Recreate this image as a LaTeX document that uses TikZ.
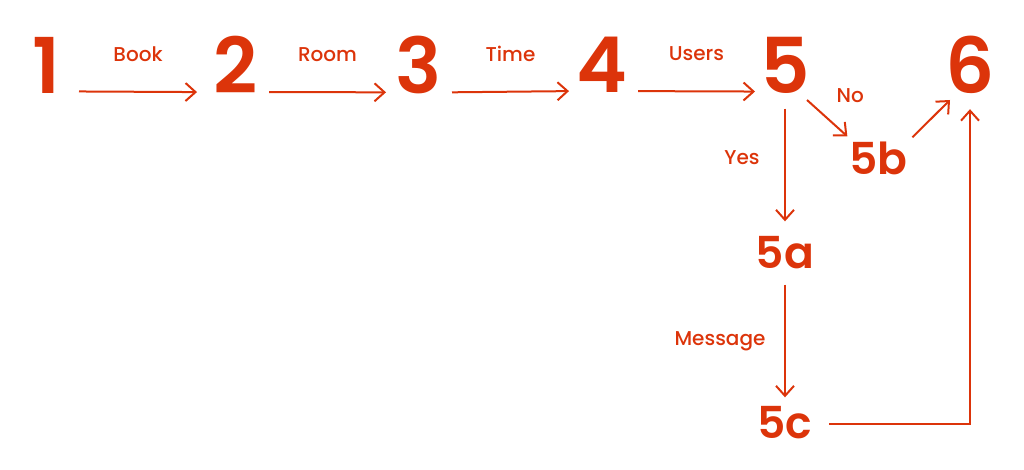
\documentclass[tikz,border=0pt]{standalone}
\usepackage{fontspec}
\setmainfont{Poppins}[BoldFont={Poppins SemiBold}]
\newfontfamily\labelfont{Poppins Medium}
\usetikzlibrary{arrows.meta}
\definecolor{flame}{RGB}{220,52,10}
\tikzstyle{bignum} = [text=flame, font=\fontsize{38.5}{40}\selectfont\bfseries, inner sep=0pt]
\tikzstyle{subnum} = [text=flame, font=\fontsize{22}{24}\selectfont\bfseries, inner sep=0pt]
\tikzstyle{lbl} = [text=flame, font=\fontsize{10}{12}\selectfont\labelfont, inner sep=0pt]
\tikzstyle{arr} = [draw=flame, line width=1pt, -{Straight Barb[length=5pt,width=9pt]}]

\begin{document}
\begin{tikzpicture}[node distance=91.5pt]
    \useasboundingbox (0,0) rectangle (512pt,-235pt);

    \node(one)[bignum] at (23pt,-32.5pt){1};
    \node(two)[bignum, right of=one, xshift=3.5pt]{2};
    \node(three)[bignum, right of=two]{3};
    \node(four)[bignum, right of=three]{4};
    \node(five)[bignum, right of=four]{5};
    \node(six)[bignum, right of=five, xshift=1pt]{6};

    \node(fivea)[subnum, below of=five, yshift=-2.5pt]{5a};
    \node(fiveb)[subnum, below right of=five, node distance=66pt]{5b};
    \node(fivec)[subnum, below of=fivea, yshift=6.5pt]{5c};

    \draw[arr] ([xshift=16.5pt,yshift=1pt]one.south) -- node[lbl, yshift=19pt]{Book} ([xshift=-19.5pt,yshift=1pt]two.south);
    \draw[arr] ([xshift=16.5pt,yshift=1pt]two.south) -- node[lbl, yshift=19pt]{Room} ([xshift=-16.5pt,yshift=1pt]three.south);
    \draw[arr] ([xshift=16.5pt,yshift=1pt]three.south) -- node[lbl, yshift=19pt]{Time} ([xshift=-16.5pt,yshift=1pt]four.south);
    \draw[arr] ([xshift=18pt,yshift=1pt]four.south) -- node[lbl, yshift=19pt]{Users} ([xshift=-15pt,yshift=1pt]five.south);

    \draw[arr] ([yshift=-7.5pt]five.south) -- node[lbl, xshift=-21.5pt, yshift=3.5pt]{Yes} ([yshift=7.5pt]fivea.north);
    \draw[arr] ([xshift=11pt,yshift=-17.5pt]five.center) -- node[lbl, xshift=11.5pt, yshift=11.25pt]{No} ([xshift=-15.5pt,yshift=11pt]fiveb.center);
    \draw[arr] ([xshift=17pt,yshift=10.5pt]fiveb.center) -- ([xshift=-10pt,yshift=-17.5pt]six.center);

    \draw[arr] ([yshift=-7.5pt]fivea.south) -- node[lbl, xshift=-32.5pt, yshift=0pt]{Message} ([yshift=4.5pt]fivec.north);
    \draw[arr] ([xshift=22pt,yshift=-0.5pt]fivec.center) -| ([yshift=-7.5pt]six.south);

\end{tikzpicture}
\end{document}
